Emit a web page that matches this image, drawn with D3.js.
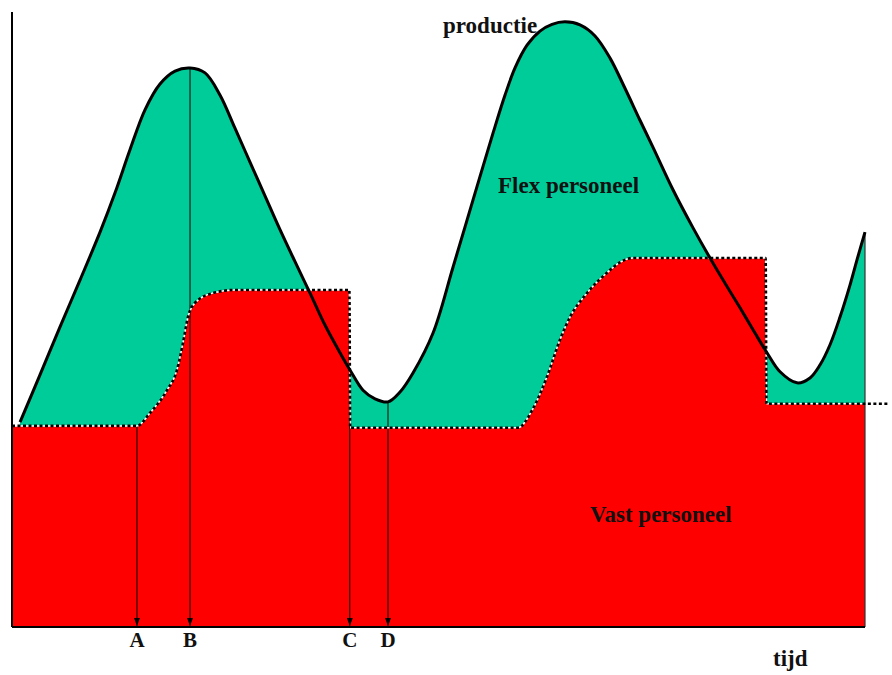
<!DOCTYPE html>
<html lang="nl">
<head>
<meta charset="UTF-8">
<title>productie en personeel</title>
<style>
    body {
        margin: 0;
        background: #fff;
    }
    .label {
        font-family: "Liberation Serif", "Times New Roman", serif;
        font-weight: bold;
        font-size: 23px;
        fill: #111;
    }
    .letter {
        font-size: 21px;
        text-anchor: middle;
    }
</style>
</head>
<body>
<script src="https://d3js.org/d3.v7.min.js"></script>
<script>
    // tijd 0-100 (horizontaal), volume 0-100 (verticaal)
    let prodTime = [0.94, 3.28, 5.63, 7.97, 10.32, 12.08, 13.83, 15.59, 17.35, 19.11, 20.87, 22.63, 24.38,
        26.14, 27.9, 29.66, 31.42, 33.18, 34.94, 36.69, 38.45, 39.62, 41.15, 42.56, 44.08, 45.49, 47.01,
        49.36, 51.7, 54.04, 56.39, 57.8, 58.97, 60.38, 61.9, 63.31, 64.83, 66.59, 68.35, 70.11, 71.86,
        73.62, 75.15, 77.49, 79.84, 81.83, 83.59, 85.35, 87.1, 88.51, 90.04, 92.03, 93.55, 94.72, 95.9,
        97.07, 98.24, 99.06, 100]
    let prodValue = [33.3, 41.0, 48.8, 56.4, 64.2, 70.6, 77.6, 84.1, 88.3, 90.4, 90.9, 90.1, 86.5,
        81.1, 75.6, 70.1, 64.6, 59.4, 54.3, 49.1, 44.6, 41.8, 38.5, 37.1, 36.6, 38.2, 41.3,
        47.8, 58.5, 69.4, 80.3, 86.5, 90.9, 94.6, 96.9, 98.0, 98.4, 97.9, 96.1, 92.5, 87.6,
        82.4, 78.0, 71.1, 64.9, 60.0, 55.9, 51.9, 47.8, 44.6, 41.5, 39.7, 40.5, 42.6, 45.9,
        50.4, 55.6, 59.7, 64.2]

    let vastTime = [0, 14.65, 16.18, 18.17, 19.34, 20.05, 20.63, 21.45, 23.56, 26.14, 39.55, 39.65,
        59.32, 61.0, 62.72, 64.24, 65.42, 67.41, 69.75, 71.28, 72.8, 88.35, 88.45, 100]
    let vastValue = [32.7, 32.7, 34.8, 38.5, 41.8, 46.2, 50.4, 52.7, 54.3, 54.8, 54.8, 32.4,
        32.4, 35.3, 40.7, 46.7, 50.4, 54.3, 57.6, 59.3, 60.0, 60.0, 36.3, 36.3]
    let vastTail = 102.9

    let markLabels = ['A', 'B', 'C', 'D']
    let markTime = [14.65, 20.87, 39.6, 44.08]
    let markValue = [32.7, 90.9, 41.8, 36.6]

    let width = 892
    let height = 675

    let x = d3.scaleLinear().domain([0, 100]).range([12, 865])
    let y = d3.scaleLinear().domain([0, 100]).range([627, 12])

    let prod = prodTime.map((t, i) => ({t: t, v: prodValue[i]}))
    let vast = vastTime.map((t, i) => ({t: t, v: vastValue[i]}))

    var svg = d3.select('body').append('svg')
        .attr('width', width)
        .attr('height', height)

    svg.append('defs').append('marker')
        .attr('id', 'arrow')
        .attr('viewBox', '0 0 8 6')
        .attr('refX', 8)
        .attr('refY', 3)
        .attr('markerWidth', 8)
        .attr('markerHeight', 6)
        .attr('markerUnits', 'userSpaceOnUse')
        .attr('orient', 'auto')
        .append('path')
        .attr('d', 'M0,0 L8,3 L0,6 z')
        .attr('fill', '#000')

    let prodArea = d3.area()
        .x(d => x(d.t))
        .y0(y(0))
        .y1(d => y(d.v))
        .curve(d3.curveCatmullRom.alpha(0.5))
    let prodLine = d3.line()
        .x(d => x(d.t))
        .y(d => y(d.v))
        .curve(d3.curveCatmullRom.alpha(0.5))
    let vastArea = d3.area()
        .x(d => x(d.t))
        .y0(y(0))
        .y1(d => y(d.v))
        .curve(d3.curveMonotoneX)
    let vastLine = d3.line()
        .x(d => x(d.t))
        .y(d => y(d.v))
        .curve(d3.curveMonotoneX)

    // flex personeel (groen) onder de productie, vast personeel (rood) erover
    svg.append('path')
        .attr('d', prodArea(prod))
        .attr('fill', '#00cc99')
    svg.append('path')
        .attr('d', vastArea(vast))
        .attr('fill', '#ff0000')

    let last = prod[prod.length - 1]
    svg.append('line')
        .attr('x1', x(100)).attr('x2', x(100))
        .attr('y1', y(last.v)).attr('y2', y(0))
        .attr('stroke', '#333')
        .attr('stroke-width', 1.2)

    // pijlen A B C D
    svg.selectAll('.mark')
        .data(markLabels)
        .enter()
        .append('line')
        .attr('class', 'mark')
        .attr('x1', (d, i) => x(markTime[i]))
        .attr('x2', (d, i) => x(markTime[i]))
        .attr('y1', (d, i) => y(markValue[i]))
        .attr('y2', y(0) - 1)
        .attr('stroke', '#000')
        .attr('stroke-width', 1)
        .attr('marker-end', 'url(#arrow)')

    // stippellijn vast personeel
    let vastPts = vast.concat([{t: vastTail, v: vast[vast.length - 1].v}])
    svg.append('path')
        .attr('d', vastLine(vast))
        .attr('fill', 'none')
        .attr('stroke', '#fff')
        .attr('stroke-width', 1.5)
    svg.append('path')
        .attr('d', vastLine(vastPts))
        .attr('fill', 'none')
        .attr('stroke', '#000')
        .attr('stroke-width', 2.6)
        .attr('stroke-dasharray', '3 2.5')

    svg.append('path')
        .attr('d', prodLine(prod))
        .attr('fill', 'none')
        .attr('stroke', '#000')
        .attr('stroke-width', 3)
        .attr('stroke-linejoin', 'round')

    // assen
    svg.append('line')
        .attr('x1', x(0)).attr('x2', x(0))
        .attr('y1', y(100)).attr('y2', y(0))
        .attr('stroke', '#000')
        .attr('stroke-width', 2)
    svg.append('line')
        .attr('x1', x(0)).attr('x2', x(100))
        .attr('y1', y(0)).attr('y2', y(0))
        .attr('stroke', '#000')
        .attr('stroke-width', 2)

    svg.selectAll('.letter')
        .data(markLabels)
        .enter()
        .append('text')
        .attr('class', 'label letter')
        .attr('x', (d, i) => x(markTime[i]))
        .attr('y', 647)
        .text(d => d)

    let texts = [
        {s: 'productie', px: 443, py: 33},
        {s: 'Flex personeel', px: 498, py: 193},
        {s: 'Vast personeel', px: 590, py: 522},
        {s: 'tijd', px: 773, py: 666}
    ]
    svg.selectAll('.txt')
        .data(texts)
        .enter()
        .append('text')
        .attr('class', 'label txt')
        .attr('x', d => d.px)
        .attr('y', d => d.py)
        .text(d => d.s)
</script>
</body>
</html>
